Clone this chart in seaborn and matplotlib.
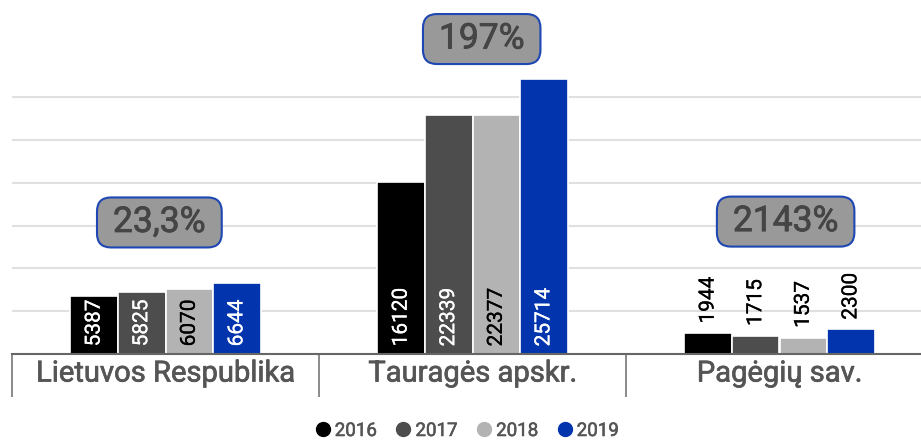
import matplotlib
matplotlib.use("Agg")
import matplotlib.pyplot as plt
from matplotlib.lines import Line2D
from matplotlib.patches import FancyBboxPatch
from matplotlib.transforms import IdentityTransform
import matplotlib.patheffects as pe
import seaborn as sns
import pandas as pd

regions = ["Lietuvos Respublika", "Tauragės apskr.", "Pagėgių sav."]
years = ["2016", "2017", "2018", "2019"]
values = {
    "2016": [5387, 16120, 1944],
    "2017": [5825, 22339, 1715],
    "2018": [6070, 22377, 1537],
    "2019": [6644, 25714, 2300],
}
pct_labels = ["23,3%", "197%", "2143%"]
pct_x = [-0.02, 1.03, 2.02]
pct_y = [12300, 29450, 12380]
colors = ["#000000", "#4d4d4d", "#b3b3b3", "#0234ad"]
label_colors = ["white", "white", "black", "white"]

rows = []
for y in years:
    for r, v in zip(regions, values[y]):
        rows.append({"region": r, "year": y, "value": v})
df = pd.DataFrame(rows)

sns.set_theme(style="white")
plt.rcParams["font.family"] = ["Roboto", "DejaVu Sans"]


def heavy(color, w=0.6):
    return [pe.withStroke(linewidth=w, foreground=color)]


fig = plt.figure(figsize=(9.21, 4.40), dpi=100)
W, H = 921, 440
ax = fig.add_axes([12 / W, 1 - 354 / H, 921 / W, 354 / H])

sns.barplot(data=df, x="region", y="value", hue="year", order=regions,
            hue_order=years, palette=colors, saturation=1, width=0.62,
            edgecolor="white", linewidth=1.2, ax=ax, legend=False, zorder=3)

ax.set_xlim(-0.5, 2.5)
ax.set_ylim(0, 33100)
ax.set_yticks([4000 * i for i in range(1, 7)])
ax.yaxis.grid(True, color="#e0e0e0", linewidth=1.5, zorder=0)
ax.tick_params(axis="y", left=False, labelleft=False)
for s in ["top", "right", "left"]:
    ax.spines[s].set_visible(False)
ax.spines["bottom"].set_color("#666666")
ax.spines["bottom"].set_linewidth(1.5)
ax.spines["bottom"].set_zorder(5)

# category separators as major ticks, labels as minor
ax.set_xticks([-0.5, 0.5, 1.5, 2.5])
ax.set_xticklabels([])
ax.tick_params(axis="x", which="major", direction="out", length=31,
               width=1.2, color="#777777", bottom=True)
ax.set_xticks([0, 1, 2], minor=True)
ax.set_xticklabels(regions, minor=True, fontsize=21, color="#555555")
for lab in ax.get_xticklabels(minor=True):
    lab.set_path_effects(heavy("#555555", 0.5))
ax.tick_params(axis="x", which="minor", length=0, pad=4)
ax.set_xlabel("")
ax.set_ylabel("")

# value labels
for ci, cont in enumerate(ax.containers):
    for bar in cont:
        h = bar.get_height()
        xc = bar.get_x() + bar.get_width() / 2
        if h > 4000:
            c = label_colors[ci]
            ax.annotate(f"{int(h)}", (xc, 0), xytext=(0, 5.5),
                        textcoords="offset points", rotation=90,
                        ha="center", va="bottom", fontsize=15,
                        color=c, zorder=6, path_effects=heavy(c, 0.2))
        else:
            ax.annotate(f"{int(h)}", (xc, h), xytext=(0, 7),
                        textcoords="offset points", rotation=90,
                        ha="center", va="bottom", fontsize=15,
                        color="black", zorder=6,
                        path_effects=heavy("black", 0.2))

# percentage boxes
pct_texts = []
for t, x, y in zip(pct_labels, pct_x, pct_y):
    pct_texts.append(ax.text(x, y, t, ha="center", va="center", fontsize=25.5,
                             color="#454545", zorder=8,
                             path_effects=heavy("#454545", 0.6)))

handles = [Line2D([], [], marker="o", linestyle="", markersize=10,
                  markerfacecolor=c, markeredgecolor=c) for c in colors]
leg = fig.legend(handles, years, loc="center",
                 bbox_to_anchor=(466 / W, 1 - 431 / H),
                 ncol=4, frameon=False, prop={"size": 13.5},
                 handletextpad=0.15, columnspacing=0.9,
                 labelcolor="#555555", handlelength=1.0)
for t in leg.get_texts():
    t.set_path_effects(heavy("#555555", 0.4))

fig.canvas.draw()
renderer = fig.canvas.get_renderer()
for t in pct_texts:
    bb = t.get_window_extent(renderer)
    padx, pady = 16, 8.5
    box = FancyBboxPatch((bb.x0 - padx, bb.y0 - pady),
                         bb.width + 2 * padx, bb.height + 2 * pady,
                         boxstyle="round,pad=0,rounding_size=14",
                         facecolor="#999999", edgecolor="#1f47b3",
                         linewidth=1.5, transform=IdentityTransform(),
                         zorder=7, clip_on=False)
    ax.add_artist(box)

fig.savefig("out.png", dpi=100)
